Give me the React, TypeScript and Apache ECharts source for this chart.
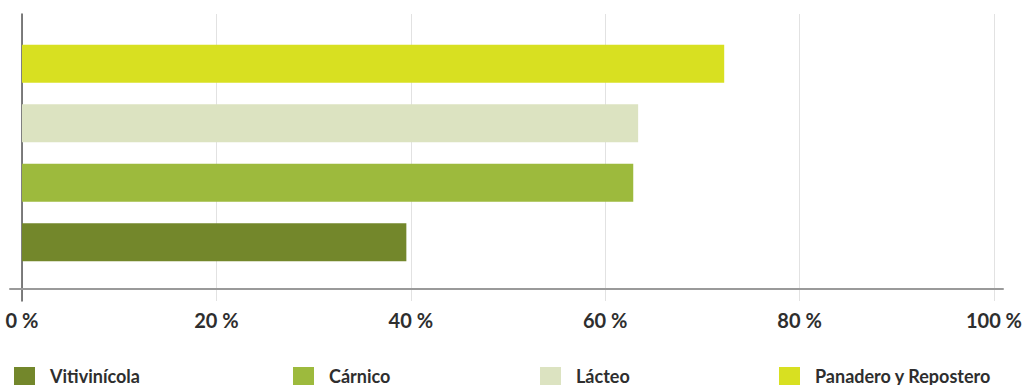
import React, { useEffect, useRef } from "react";
import * as echarts from "echarts";

const categories = ["Vitivinícola", "Cárnico", "Lácteo", "Panadero y Repostero"];
const values = [39.3, 62.5, 63.0, 71.8];
const colors = ["#73872b", "#9dba3d", "#dce3c1", "#d8e021"];
const tickValues = [0, 20, 40, 60, 80, 100];
const legendLefts = [14, 293, 540, 779];

export default function App() {
  const ref = useRef<HTMLDivElement>(null);
  useEffect(() => {
    document.body.style.margin = "0";
    const chart = echarts.init(ref.current!, null, { renderer: "svg" });
    const font = "Lato";
    const series = categories.map((name, i) => ({
      name,
      type: "bar",
      xAxisIndex: 2,
      yAxisIndex: 2,
      stack: "all",
      barWidth: 38,
      itemStyle: { color: colors[i] },
      data: categories.map((_, j) => (j === i ? values[i] : "-")),
      z: 5,
    }));
    chart.setOption({
      animation: false,
      grid: [
        { left: 10, right: 22, top: 14, bottom: 96 },
        { left: 22, right: 25, top: 14, bottom: 84 },
        { left: 22, right: 25, top: 34, bottom: 113 },
      ],
      xAxis: [
        {
          gridIndex: 0, type: "value", min: 0, max: 100,
          axisLine: { show: true, lineStyle: { color: "#9a9a9a", width: 2 } },
          axisTick: { show: false }, axisLabel: { show: false }, splitLine: { show: false },
        },
        {
          gridIndex: 1, type: "value", min: 0, max: 100, interval: 20,
          axisLine: { show: false }, axisTick: { show: false },
          splitLine: { show: true, lineStyle: { color: "#e2e2e2", width: 1 } },
          axisLabel: {
            show: true, margin: 9, color: "#2e2e2e", fontFamily: font, fontWeight: "bold", fontSize: 20,
            formatter: (v: number) => (tickValues.includes(v) ? `${v} %` : ""),
          },
        },
        {
          gridIndex: 2, type: "value", min: 0, max: 100, show: false,
        },
      ],
      yAxis: [
        { gridIndex: 0, type: "value", show: false },
        {
          gridIndex: 1, type: "value", min: 0, max: 1,
          axisLine: { show: true, lineStyle: { color: "#555555", width: 1.5 } },
          axisTick: { show: false }, axisLabel: { show: false }, splitLine: { show: false },
        },
        { gridIndex: 2, type: "category", data: categories, show: false },
      ],
      legend: categories.map((name, i) => ({
        data: [name],
        left: legendLefts[i],
        top: 367,
        padding: 0,
        itemWidth: 21,
        itemHeight: 18,
        icon: "rect",
        selectedMode: false,
        textStyle: {
          color: "#2e2e2e", fontFamily: font, fontWeight: "bold", fontSize: 18,
          lineHeight: 16,
          padding: [0, 0, 0, 10],
        },
      })),
      series,
    });
    return () => chart.dispose();
  }, []);
  return <div ref={ref} style={{ width: 1025, height: 385 }} />;
}
